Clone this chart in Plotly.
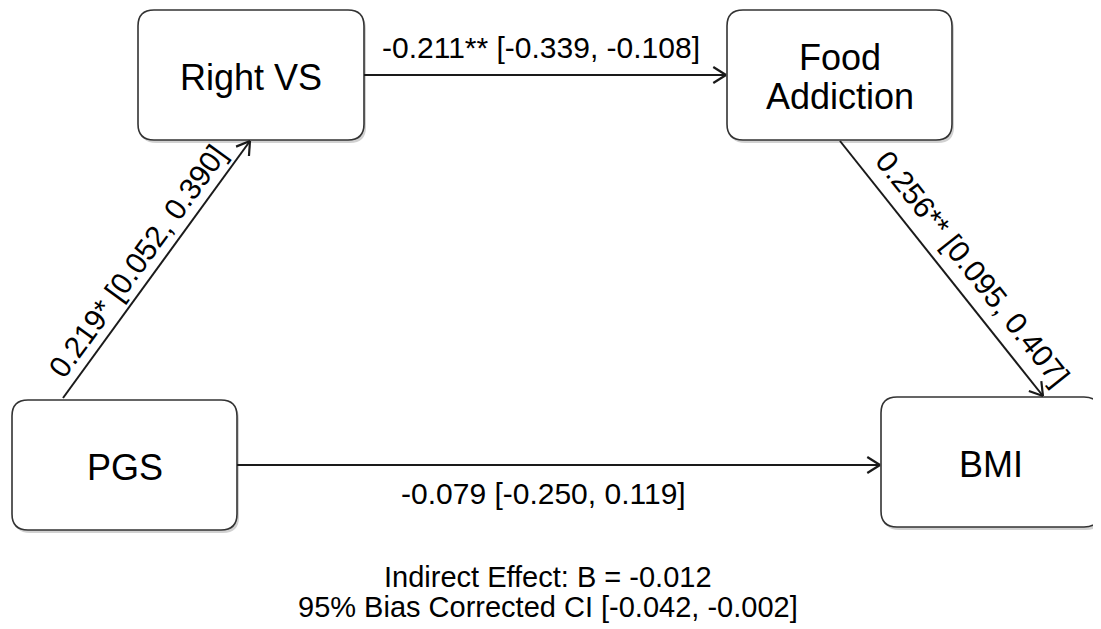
import math
import plotly.graph_objects as go

# ---- data ----
node_names = [["Right VS"], ["Food", "Addiction"], ["PGS"], ["BMI"]]
path_from = ["PGS", "Right VS", "Food Addiction", "PGS"]
path_to = ["Right VS", "Food Addiction", "BMI", "BMI"]
estimates = ["0.219", "-0.211", "0.256", "-0.079"]
stars = ["*", "**", "**", ""]
ci_low = ["0.052", "-0.339", "0.095", "-0.250"]
ci_high = ["0.390", "-0.108", "0.407", "0.119"]
indirect_b = "-0.012"
indirect_ci = ["-0.042", "-0.002"]

# ---- layout (pixel space) ----
W, H = 1101, 629
PAD = 8  # page body margin
boxes = {
    "Right VS": (138, 10, 364, 140),
    "Food Addiction": (727, 10, 952, 140),
    "PGS": (12, 400, 237, 530),
    "BMI": (881, 397, 1100, 527),
}
labels = dict(zip(["Right VS", "Food Addiction", "PGS", "BMI"], node_names))
# edge endpoints (start, end)
edge_pts = [
    ((63, 398), (250, 141)),
    ((364, 75), (726, 75)),
    ((840, 141), (1043, 396)),
    ((237, 465), (880, 465)),
]
label_pos = [(137, 261), (541, 47), (973, 268), (543, 493)]

FONT = "Liberation Sans, Arial, sans-serif"
INK = "#1a1a1a"
LINE_GAP = 39

def rounded(x0, y0, x1, y1, r=16):
    return (f"M {x0+r},{y0} L {x1-r},{y0} Q {x1},{y0} {x1},{y0+r} "
            f"L {x1},{y1-r} Q {x1},{y1} {x1-r},{y1} L {x0+r},{y1} "
            f"Q {x0},{y1} {x0},{y1-r} L {x0},{y0+r} Q {x0},{y0} {x0+r},{y0} Z")

shapes = []
annotations = []

for name, (x0, y0, x1, y1) in boxes.items():
    shapes.append(dict(type="path", path=rounded(x0 + 2, y0 + 3, x1 + 2, y1 + 3),
                       line=dict(width=0), fillcolor="rgba(0,0,0,0.18)", layer="below"))
    shapes.append(dict(type="path", path=rounded(x0, y0, x1, y1),
                       line=dict(color="#333333", width=1.6), fillcolor="white", layer="below"))
    lines = labels[name]
    cy = (y0 + y1) / 2 + 2
    for k, ln in enumerate(lines):
        yy = cy + (k - (len(lines) - 1) / 2) * LINE_GAP
        annotations.append(dict(x=(x0 + x1) / 2, y=yy, xref="x", yref="y",
                                text=ln, showarrow=False,
                                font=dict(family=FONT, size=36, color="black")))

for i, ((sx, sy), (ex, ey)) in enumerate(edge_pts):
    shapes.append(dict(type="line", x0=sx, y0=sy, x1=ex, y1=ey,
                       line=dict(color=INK, width=2)))
    ang = math.atan2(ey - sy, ex - sx)
    L, half = 15, math.radians(32)
    for s in (-1, 1):
        a = ang + math.pi + s * half
        shapes.append(dict(type="line", x0=ex, y0=ey,
                           x1=ex + L * math.cos(a), y1=ey + L * math.sin(a),
                           line=dict(color=INK, width=2.2)))
    text = f"{estimates[i]}{stars[i]} [{ci_low[i]}, {ci_high[i]}]"
    deg = math.degrees(ang)
    if deg > 90:
        deg -= 180
    if deg < -90:
        deg += 180
    lx, ly = label_pos[i]
    annotations.append(dict(x=lx, y=ly, xref="x", yref="y", text=text, showarrow=False,
                            textangle=deg, font=dict(family=FONT, size=30, color="black")))

annotations.append(dict(x=548, y=577, xref="x", yref="y", showarrow=False,
                        text=f"Indirect Effect: B = {indirect_b}",
                        font=dict(family=FONT, size=29, color="black")))
annotations.append(dict(x=548, y=607, xref="x", yref="y", showarrow=False,
                        text=f"95% Bias Corrected CI [{indirect_ci[0]}, {indirect_ci[1]}]",
                        font=dict(family=FONT, size=29, color="black")))

fig = go.Figure()
fig.update_layout(
    width=W - PAD, height=H - PAD, margin=dict(l=0, r=0, t=0, b=0),
    paper_bgcolor="white", plot_bgcolor="white",
    xaxis=dict(range=[PAD, W], visible=False, fixedrange=True),
    yaxis=dict(range=[H, PAD], visible=False, fixedrange=True),
    shapes=shapes, annotations=annotations, showlegend=False,
)
fig.write_html("out.html")
